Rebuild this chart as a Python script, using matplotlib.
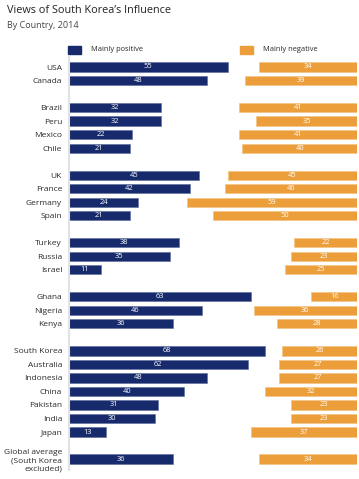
import matplotlib
matplotlib.use("Agg")
import matplotlib.pyplot as plt

groups = [
    ["USA", "Canada"],
    ["Brazil", "Peru", "Mexico", "Chile"],
    ["UK", "France", "Germany", "Spain"],
    ["Turkey", "Russia", "Israel"],
    ["Ghana", "Nigeria", "Kenya"],
    ["South Korea", "Australia", "Indonesia", "China", "Pakistan", "India", "Japan"],
    ["Global average\n(South Korea\nexcluded)"],
]
positive = [55, 48, 32, 32, 22, 21, 45, 42, 24, 21, 38, 35, 11, 63, 46, 36,
            68, 62, 48, 40, 31, 30, 13, 36]
negative = [34, 39, 41, 35, 41, 40, 45, 46, 59, 50, 22, 23, 25, 16, 36, 28,
            26, 27, 27, 32, 23, 23, 37, 34]
series_names = ["Mainly positive", "Mainly negative"]

NAVY = "#172a6b"
ORANGE = "#eb9e3a"
TXT = "#2a2a2a"
plt.rcParams['font.family'] = ['Open Sans', 'DejaVu Sans']

W, H = 359, 479
fig = plt.figure(figsize=(W/100, H/100), dpi=100)

labels, ys = [], []
slot = 0
for g in groups:
    for c in g:
        labels.append(c)
        ys.append(slot)
        slot += 1
    slot += 1

step = 13.52
y0px = 67
top_px, bot_px = 57, 470
left_px, right_px = 69, 357.3
ax = fig.add_axes([left_px/W, (H-bot_px)/H, (right_px-left_px)/W, (bot_px-top_px)/H])
ax.set_xlim(0, 100)
ax.set_ylim((bot_px - y0px)/step, (top_px - y0px)/step)

bh = 0.68
ax.barh(ys, positive, height=bh, left=0, color=NAVY, edgecolor="#5a6a9c", linewidth=0.4)
ax.barh(ys, negative, height=bh, left=[100 - v for v in negative], color=ORANGE,
        edgecolor="#f3c27e", linewidth=0.4)

for y, p, n in zip(ys, positive, negative):
    ax.text(p/2, y, str(p), color="white", ha="center", va="center", fontsize=5.4)
    ax.text(100 - n/2, y, str(n), color="white", ha="center", va="center", fontsize=5.4)

ax.set_yticks(ys)
ax.set_yticklabels(labels, fontsize=6.0, color=TXT, linespacing=1.2)
ax.tick_params(axis='y', length=0, pad=5)
ax.set_xticks([])
for s in ["top", "right", "bottom"]:
    ax.spines[s].set_visible(False)
ax.spines["left"].set_color("#e2e2e2")
ax.spines["left"].set_linewidth(1.5)

fig.text(7/W, 1 - 10.5/H, "Views of South Korea\u2019s Influence", fontsize=7.8,
         color="#222222", va="center", ha="left")
fig.text(7/W, 1 - 25/H, "By Country, 2014", fontsize=6.5, color="#444444",
         va="center", ha="left")

from matplotlib.patches import Rectangle
fig.patches.append(Rectangle((68/W, 1 - 54/H), 13/W, 8.5/H, transform=fig.transFigure,
                             color=NAVY))
fig.text(91/W, 1 - 49.5/H, series_names[0], fontsize=5.4, color=TXT, va="center")
fig.patches.append(Rectangle((240/W, 1 - 54/H), 13/W, 8.5/H, transform=fig.transFigure,
                             color=ORANGE))
fig.text(263/W, 1 - 49.5/H, series_names[1], fontsize=5.4, color=TXT, va="center")

fig.savefig("out.png", dpi=100)
